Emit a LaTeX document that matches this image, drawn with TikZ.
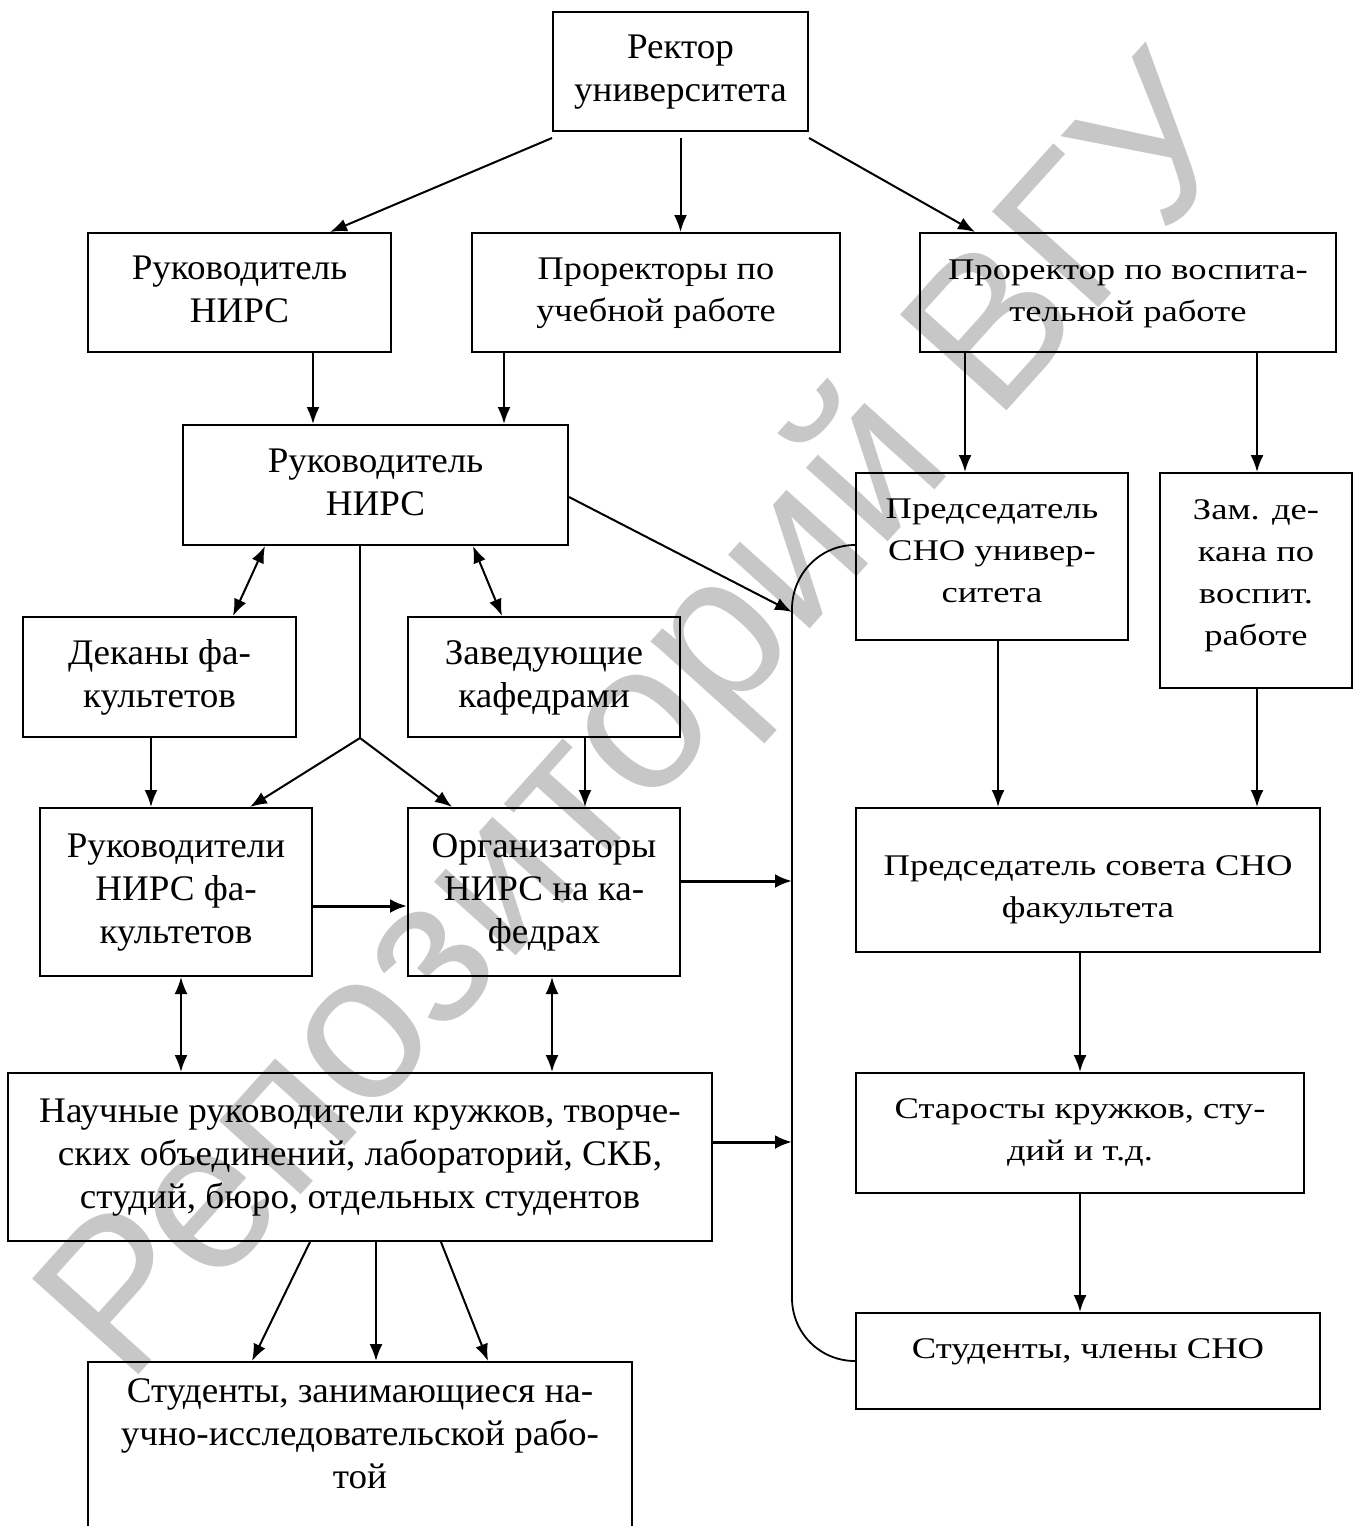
\documentclass[tikz,border=0pt]{standalone}
\usepackage{fontspec}
\usepackage{graphicx}
\setmainfont{Liberation Serif}
\newfontfamily\wmfont{Liberation Sans}
\usetikzlibrary{arrows.meta}
\newcommand{\SL}[1]{\scalebox{1.03}[1]{\begin{tabular}{@{}c@{}}#1\end{tabular}}}
\newcommand{\SM}[1]{\scalebox{1.1}[1]{\begin{tabular}{@{}c@{}}#1\end{tabular}}}
\newcommand{\SR}[1]{\scalebox{1.22}[1]{\begin{tabular}{@{}c@{}}#1\end{tabular}}}
\tikzset{
  box/.style={draw, line width=2pt, inner sep=0pt},
  fL/.style={font=\fontsize{36}{43}\selectfont},
  fM/.style={font=\fontsize{33}{42}\selectfont},
  fR/.style={font=\fontsize{30}{42}\selectfont},
  arr/.style={line width=2pt, -{Latex[length=17pt,width=13pt]}},
  darr/.style={line width=2pt, {Latex[length=17pt,width=13pt]}-{Latex[length=17pt,width=13pt]}},
  harr/.style={line width=3pt, -{Latex[length=17pt,width=14pt]}},
  wm/.style={text=black!22, font=\wmfont\fontsize{208}{208}\selectfont, rotate=48, inner sep=0pt},
}
\begin{document}
\begin{tikzpicture}[x=1pt,y=-1pt]
\useasboundingbox (0,0) rectangle (1360,1526);
\clip (0,0) rectangle (1360,1526);
\fill[white] (0,0) rectangle (1360,1526);
% watermark
\node[wm] (wm) at (648,726) {Репозиторий ВГУ};
% boxes
\node[box,fL,minimum width=255pt,minimum height=119pt] (rector) at (680.5,71.5) {\SL{Ректор\\университета}};
\node[box,fL,minimum width=303pt,minimum height=119pt] (rukTop) at (239.5,292.5) {\SL{Руководитель\\НИРС}};
\node[box,fM,minimum width=368pt,minimum height=119pt] (prorUch) at (656,292.5) {\SM{Проректоры по\\учебной работе}};
\node[box,fR,minimum width=416pt,minimum height=119pt,text depth=37pt] (prorVos) at (1128,292.5) {\SR{Проректор по воспита-\\тельной работе}};
\node[box,fL,minimum width=385pt,minimum height=120pt] (rukMid) at (375.5,485) {\SL{Руководитель\\НИРС}};
\node[box,fR,minimum width=272pt,minimum height=167pt,text depth=65pt] (predSNO) at (992,556.5) {\SR{Председатель\\СНО универ-\\ситета}};
\node[box,fR,minimum width=192pt,minimum height=215pt,text depth=91pt] (zam) at (1256,580.5) {\SR{Зам. де-\\кана по\\воспит.\\работе}};
\node[box,fL,minimum width=273pt,minimum height=120pt] (dekany) at (159.5,677) {\SL{Деканы фа-\\культетов}};
\node[box,fL,minimum width=272pt,minimum height=120pt] (zav) at (544,677) {\SL{Заведующие\\кафедрами}};
\node[box,fL,minimum width=272pt,minimum height=168pt] (rukFak) at (176,892) {\SL{Руководители\\НИРС фа-\\культетов}};
\node[box,fL,minimum width=272pt,minimum height=168pt] (org) at (544,892) {\SL{Организаторы\\НИРС на ка-\\федрах}};
\node[box,fR,minimum width=464pt,minimum height=144pt,text height=65pt] (predSovet) at (1088,880) {\SR{Председатель совета СНО\\факультета}};
\node[box,fL,minimum width=704pt,minimum height=168pt] (nauch) at (360,1157) {\SL{Научные руководители кружков, творче-\\ских объединений, лабораторий, СКБ,\\студий, бюро, отдельных студентов}};
\node[box,fR,minimum width=448pt,minimum height=120pt,text depth=39pt] (starosty) at (1080,1133) {\SR{Старосты кружков, сту-\\дий и т.д.}};
\node[box,fR,minimum width=464pt,minimum height=96pt,text depth=36pt] (studSNO) at (1088,1361) {\SR{Студенты, члены СНО}};
\node[box,minimum width=544pt,minimum height=220pt] (stud) at (360,1472) {};
\node[fL,inner sep=0pt] (studtxt) at (360,1437) {\SL{Студенты, занимающиеся на-\\учно-исследовательской рабо-\\той}};
% bus curve
\coordinate (busA) at (792,612);
\coordinate (busB) at (792,881);
\coordinate (busC) at (792,1142);
\coordinate (busTop) at (792,609);
\coordinate (busBot) at (792,1298);
\draw[line width=1.8pt] ([yshift=11.5pt]predSNO.west) .. controls +(-35,0) and +(0,-35) .. (busTop) -- (busBot) .. controls +(0,35) and +(-35,0) .. (studSNO.west);
% connectors from rector
\draw[arr] ([yshift=-6pt]rector.south west) -- ([xshift=90.5pt]rukTop.north);
\draw[arr] ([yshift=-6pt]rector.south) -- (rector.south |- prorUch.north);
\draw[arr] ([yshift=-6pt]rector.south east) -- ([xshift=-153pt]prorVos.north);
% second level
\draw[arr] ([xshift=73.5pt]rukTop.south) -- ([xshift=73.5pt]rukTop.south |- rukMid.north);
\draw[arr] ([xshift=-152pt]prorUch.south) -- ([xshift=-152pt]prorUch.south |- rukMid.north);
\draw[arr] ([xshift=-163pt]prorVos.south) -- ([xshift=-163pt]prorVos.south |- predSNO.north);
\draw[arr] ([xshift=129pt]prorVos.south) -- ([xshift=129pt]prorVos.south |- zam.north);
% rukMid
\draw[darr] ([xshift=-110.5pt]rukMid.south) -- ([xshift=73.5pt]dekany.north);
\draw[darr] ([xshift=97.5pt]rukMid.south) -- ([xshift=-42pt]zav.north);
\coordinate (br) at (360,738);
\draw[line width=2pt] ([xshift=-15.5pt]rukMid.south) -- (br);
\draw[arr] (br) -- ([xshift=74pt]rukFak.north);
\draw[arr] (br) -- ([xshift=-92pt]org.north);
\draw[arr] ([yshift=-12pt]rukMid.east) -- (busA);
% middle
\draw[arr] ([xshift=-8.5pt]dekany.south) -- ([xshift=-8.5pt]dekany.south |- rukFak.north);
\draw[arr] ([xshift=41pt]zav.south) -- ([xshift=41pt]zav.south |- org.north);
\draw[harr] ([yshift=-14pt]rukFak.east) -- ([yshift=-14pt]rukFak.east -| org.west);
\draw[harr] ([yshift=11pt]org.east) -- (busB);
\draw[darr] ([xshift=5pt]rukFak.south) -- ([xshift=5pt]rukFak.south |- nauch.north);
\draw[darr] ([xshift=8pt]org.south) -- ([xshift=8pt]org.south |- nauch.north);
\draw[harr] ([yshift=15pt]nauch.east) -- (busC);
% to students
\draw[arr] ([xshift=-50pt]nauch.south) -- ([xshift=-108pt]stud.north);
\draw[arr] ([xshift=16pt]nauch.south) -- ([xshift=16pt]stud.north);
\draw[arr] ([xshift=81pt]nauch.south) -- ([xshift=128pt]stud.north);
% right column
\draw[arr] ([xshift=6pt]predSNO.south) -- ([xshift=6pt]predSNO.south |- predSovet.north);
\draw[arr] ([xshift=1pt]zam.south) -- ([xshift=1pt]zam.south |- predSovet.north);
\draw[arr] ([xshift=-8pt]predSovet.south) -- ([xshift=-8pt]predSovet.south |- starosty.north);
\draw[arr] (starosty.south) -- (starosty.south |- studSNO.north);
\end{tikzpicture}
\end{document}
